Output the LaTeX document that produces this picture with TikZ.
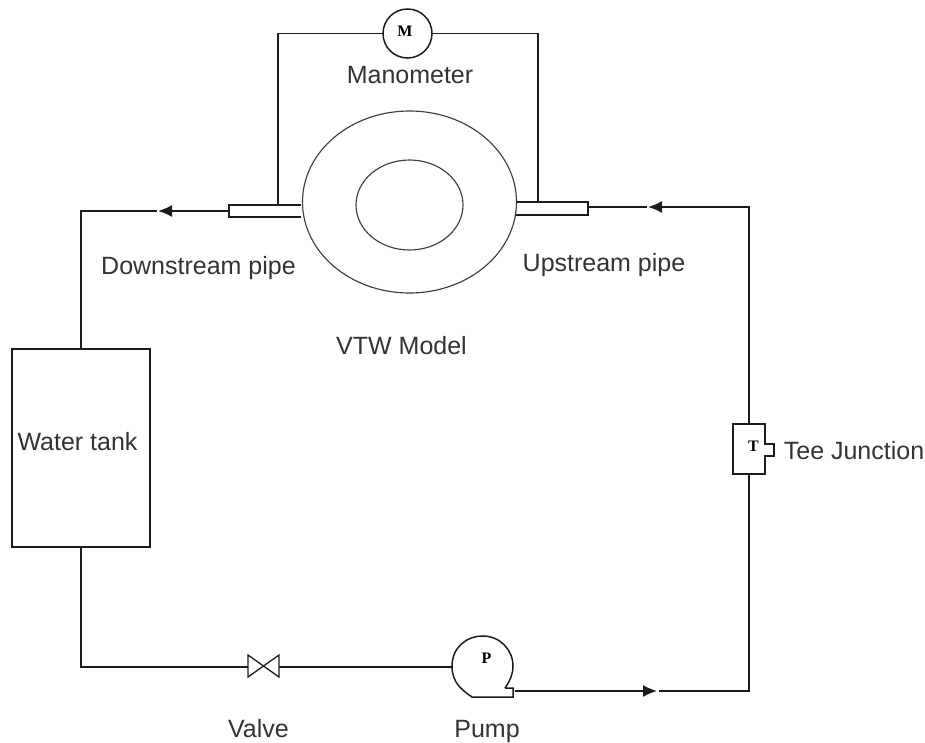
\documentclass[tikz,border=0pt]{standalone}
\usepackage{fontspec}
\setmainfont{Liberation Sans}
\newfontfamily\symfont{Liberation Serif}
\usetikzlibrary{shapes.geometric,arrows.meta,calc}
\definecolor{ink}{HTML}{1C1C1C}
\tikzset{
  x=1pt,y=-1pt,
  every node/.style={inner sep=0pt,outer sep=0pt},
  ln/.style={draw=ink,line width=1.5pt},
  thinln/.style={draw=ink!85,line width=1.15pt},
  label/.style={font=\fontsize{25}{29}\selectfont,text=ink!90,anchor=base},
  sym/.style={font=\symfont\bfseries\fontsize{16}{18}\selectfont,text=black},
  box/.style={ln,rectangle,fill=white},
  flowtip/.style={-{Latex[length=14pt,width=12pt]}},
}
\begin{document}
\begin{tikzpicture}
\useasboundingbox (0,0) rectangle (925,742);
% equipment
\node[box,minimum width=138pt,minimum height=198pt] (tank) at (81,448) {};
\node[thinln,ellipse,minimum width=214pt,minimum height=182pt,fill=white] (model) at (409.5,202) {};
\node[thinln,ellipse,minimum width=107pt,minimum height=90pt] (core) at (409.5,205) {};
\node[minimum width=72pt,minimum height=12pt] (dpipe) at (265,211) {};
\draw[ln] (dpipe.north east) -- (dpipe.north west) -- (dpipe.south west) -- (dpipe.south east);
\node[minimum width=72pt,minimum height=13pt] (upipe) at (552,208.5) {};
\draw[ln] (upipe.north west) -- (upipe.north east) -- (upipe.south east) -- (upipe.south west);
\node[ln,circle,minimum size=49pt] (mano) at (407.5,33.5) {};
\node[sym] at (405,31) {M};
\node[minimum width=32pt,minimum height=50pt] (tee) at (749,449) {};
\draw[ln,line join=miter] (tee.north west) -- (tee.north east) -- (765,444) -- (774,444) -- (774,456) -- (765,456)
   -- (tee.south east) -- (tee.south west) -- cycle;
\node[sym] at (753.5,446.5) {T};
% pump
\coordinate (pumpin) at (452,667);
\coordinate (pumpout) at (514.5,691);
\draw[ln,line join=miter] (505,688) -- (513,688) -- (513,697) -- (472,697)
   .. controls (462,690) and (452,683) .. (452,666)
   .. controls (452,648) and (466,636) .. (483,636)
   .. controls (500,636) and (513,650) .. (513,666)
   .. controls (513,674) and (510,681) .. (505,688);
\node[sym] at (486.5,658.5) {P};
% valve
\coordinate (valvel) at (248,667);
\coordinate (valver) at (279,667);
\draw[ln,line join=miter,line width=1.3pt] (248,655) -- (279,677) -- (279,655) -- (248,677) -- cycle;
% piping
\coordinate (a1) at (81,211);
\coordinate (b1) at (749,207);
\coordinate (b2) at (662,207);
\coordinate (c1) at (749,691);
\coordinate (c2) at (659,691);
\draw[ln] (tank.north) -- (a1) -- (157,211);
\draw[ln,flowtip] (dpipe.west |- a1) -- (158,211);
\draw[ln] (tee.north) -- (b1) -- (b2);
\draw[ln,flowtip] (b2) -- (648,207);
\draw[ln] (upipe.east |- b2) -- (647,207);
\draw[ln] (tee.south) -- (c1) -- (c2);
\draw[ln,flowtip] (pumpout) -- (657,691);
\draw[ln] (tank.south) -- (tank.south |- valvel) -- (valvel);
\draw[ln] (valver) -- (pumpin);
\draw[ln] (mano.west) -- (278,33.5) -- (278,205);
\draw[ln] (mano.east) -- (538,33.5) -- (538,202);
% labels
\node[label] at (198.5,274) {Downstream pipe};
\node[label] at (604,271) {Upstream pipe};
\node[label] at (410,83) {Manometer};
\node[label] at (401.5,354) {VTW Model};
\node[label] at (77.5,450) {Water tank};
\node[label] at (854,459) {Tee Junction};
\node[label] at (258.5,737) {Valve};
\node[label] at (487,737) {Pump};
\end{tikzpicture}
\end{document}
